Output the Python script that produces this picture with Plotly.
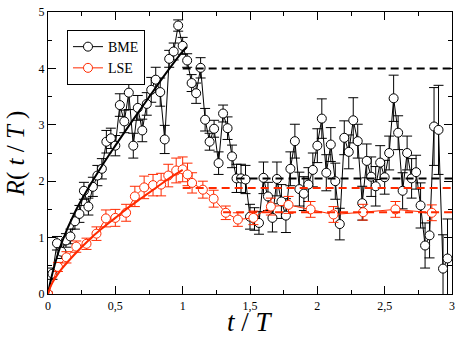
import numpy as np
import plotly.graph_objects as go

bme_step = 1 / 30
bme_r = [0.00, 0.36, 0.90, 0.75, 0.95, 1.02, 1.29, 1.42, 1.83, 1.55,
         1.90, 2.10, 2.22, 2.70, 2.76, 2.63, 3.35, 3.06, 3.57, 2.63,
         3.30, 2.90, 3.37, 3.62, 3.80, 3.58, 2.74, 4.17, 4.30, 4.76,
         4.40, 4.14, 3.74, 3.56, 4.01, 3.09, 2.70, 2.93, 2.32, 3.20,
         2.94, 2.44, 2.05, 2.05, 2.03, 1.37, 1.33, 1.26, 2.06, 1.73,
         1.35, 2.04, 1.64, 1.39, 2.22, 2.71, 1.86, 1.78, 1.94, 2.20,
         2.63, 3.11, 2.15, 2.65, 2.00, 1.24, 2.77, 2.52, 3.08, 2.71,
         1.61, 2.36, 2.08, 1.91, 2.33, 2.07, 2.50, 3.47, 2.86, 1.83,
         2.50, 2.05, 2.16, 1.57, 0.86, 1.04, 2.97, 2.91, 0.45, 0.63]
bme_err = [0.03, 0.10, 0.12, 0.12, 0.12, 0.13, 0.14, 0.15, 0.15, 0.15,
           0.17, 0.18, 0.18, 0.20, 0.18, 0.18, 0.20, 0.20, 0.30, 0.22,
           0.22, 0.20, 0.20, 0.22, 0.22, 0.25, 0.25, 0.15, 0.15, 0.10,
           0.15, 0.12, 0.15, 0.18, 0.18, 0.20, 0.15, 0.15, 0.20, 0.15,
           0.20, 0.20, 0.25, 0.25, 0.25, 0.22, 0.20, 0.20, 0.28, 0.25,
           0.25, 0.30, 0.30, 0.30, 0.30, 0.30, 0.30, 0.30, 0.30, 0.30,
           0.30, 0.35, 0.32, 0.30, 0.32, 0.28, 0.30, 0.30, 0.40, 0.30,
           0.30, 0.30, 0.35, 0.35, 0.30, 0.30, 0.30, 0.41, 0.30, 0.32,
           0.30, 0.35, 0.30, 0.40, 0.40, 0.40, 0.69, 0.79, 0.60, 0.70]
bme_t = np.arange(len(bme_r)) * bme_step

lse_t = [0.0, 0.074, 0.137, 0.21, 0.286, 0.36, 0.43, 0.50, 0.58, 0.645,
         0.714, 0.78, 0.84, 0.893, 0.952, 1.0, 1.036, 1.07, 1.15, 1.23,
         1.32, 1.41, 1.525, 1.655, 1.786, 1.95, 2.12, 2.34, 2.58, 2.85]
lse_r = [0.0, 0.48, 0.65, 0.84, 0.89, 1.07, 1.34, 1.35, 1.44, 1.73,
         1.89, 1.93, 1.94, 2.10, 2.19, 2.21, 2.12, 1.97, 1.85, 1.69,
         1.44, 1.32, 1.35, 1.55, 1.58, 1.50, 1.41, 1.45, 1.50, 1.44]
lse_err = [0.03, 0.08, 0.10, 0.10, 0.10, 0.12, 0.15, 0.15, 0.15, 0.18,
           0.20, 0.19, 0.20, 0.20, 0.22, 0.22, 0.20, 0.18, 0.15, 0.15,
           0.12, 0.12, 0.12, 0.15, 0.15, 0.14, 0.14, 0.14, 0.14, 0.14]

# fitted curves for t <= T
fit_t = [0, 0.02, 0.05, 0.1, 0.2, 0.3, 0.4, 0.5, 0.6, 0.7, 0.8, 0.9, 1.0, 1.03]
fit_bme = [0, 0.24, 0.52, 0.90, 1.45, 1.88, 2.27, 2.63, 2.98, 3.32, 3.66, 3.99, 4.30, 4.38]
fit_lse = [0, 0.14, 0.27, 0.44, 0.71, 0.95, 1.16, 1.35, 1.54, 1.71, 1.88, 2.05, 2.20, None]

# dashed reference levels: (start t, end t, level)
bme_levels = [(1.0, 3.0, 4.0), (1.4, 3.0, 2.05)]
lse_levels = [(1.0, 3.0, 1.88), (1.3, 3.0, 1.45)]

x_ticks = [0, 0.5, 1, 1.5, 2, 2.5, 3]
x_ticktext = ['0', '0,5', '1', '1,5', '2', '2,5', '3']

BLACK = '#000000'
RED = '#ff2a00'
SERIF = 'Liberation Serif'

fig = go.Figure()

for name, t, r, err, col in [('BME', bme_t, bme_r, bme_err, BLACK),
                             ('LSE', lse_t, lse_r, lse_err, RED)]:
    fig.add_trace(go.Scatter(
        x=t, y=r, name=name, mode='lines+markers',
        line=dict(color=col, width=1),
        marker=dict(symbol='circle', size=9, color='white',
                    line=dict(color=col, width=1)),
        error_y=dict(type='data', array=err, color=col,
                     thickness=1, width=5),
    ))

fig.add_trace(go.Scatter(x=fit_t, y=fit_bme, mode='lines', line_shape='spline',
                         line=dict(color=BLACK, width=2), showlegend=False))
fig.add_trace(go.Scatter(x=fit_t, y=fit_lse, mode='lines', line_shape='spline',
                         line=dict(color=RED, width=2), showlegend=False))

for levels, col in [(bme_levels, BLACK), (lse_levels, RED)]:
    for t0, t1, lev in levels:
        fig.add_trace(go.Scatter(x=[t0, t1], y=[lev, lev], mode='lines',
                                 line=dict(color=col, width=2, dash='8px,5px'),
                                 showlegend=False))

axis_common = dict(
    showline=True, linecolor='black', linewidth=1.2, mirror='ticks',
    ticks='inside', ticklen=8, tickcolor='black', tickwidth=1,
    showgrid=False, zeroline=False, automargin=False,
    tickfont=dict(family=SERIF, size=12, color='black'),
)

fig.update_xaxes(
    range=[0, 3], tickvals=x_ticks, ticktext=x_ticktext,
    minor=dict(dtick=0.25, ticks='inside', ticklen=4, tickcolor='black', showgrid=False),
    **axis_common,
)
fig.update_yaxes(
    range=[0, 5], dtick=1,
    minor=dict(dtick=0.5, ticks='inside', ticklen=4, tickcolor='black', showgrid=False),
    title=dict(text='<i>R</i>( <i>t</i> / <i>T</i> )',
               font=dict(family=SERIF, size=25, color='black'), standoff=6),
    **axis_common,
)

# x title as an annotation so it sits inside the page
fig.add_annotation(text='<i>t</i> / <i>T</i>', xref='paper', yref='paper',
                   x=0.5, y=-0.1, xanchor='center', yanchor='middle',
                   showarrow=False, font=dict(family=SERIF, size=27, color='black'))

fig.update_layout(
    width=463, height=338,
    margin=dict(l=48, r=11, t=12, b=44),
    paper_bgcolor='white', plot_bgcolor='white',
    font=dict(family=SERIF, color='black'),
    legend=dict(x=0.047, y=0.936, xanchor='left', yanchor='top',
                bgcolor='white', bordercolor='black', borderwidth=1,
                font=dict(family=SERIF, size=14), tracegroupgap=0,
                itemwidth=30),
)

# drop the browser's default body margin so the figure sits at the page corner
fig.write_html('out.html', config={'displayModeBar': False},
               post_script="document.body.style.margin='0';")
